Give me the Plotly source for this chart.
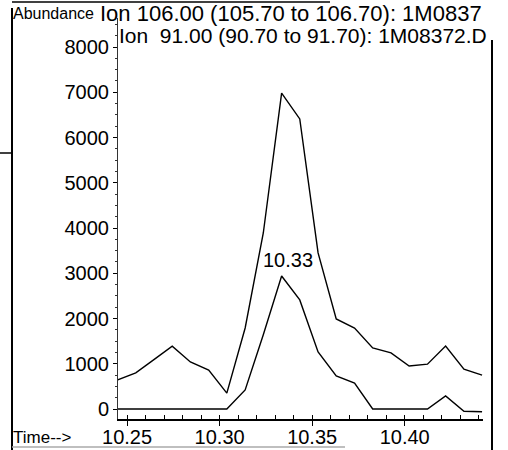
import plotly.graph_objects as go

# Retention time (min) of each scan
times = [10.2448, 10.2547, 10.2645, 10.2744, 10.2842, 10.2941, 10.3039,
         10.3138, 10.3236, 10.3335, 10.3433, 10.3532, 10.3630, 10.3729,
         10.3827, 10.3926, 10.4024, 10.4123, 10.4221, 10.4320, 10.4418]

# Extracted ion chromatograms (abundance)
ion_091 = [640, 800, 1090, 1390, 1040, 860, 350, 1790, 3890, 6980, 6410,
           3450, 1990, 1790, 1350, 1240, 950, 990, 1390, 880, 750]
ion_106 = [0, 0, 0, 0, 0, 0, 0, 420, 1640, 2940, 2410, 1260, 730, 575,
           0, 0, 0, 0, 290, -50, -60]

peak_time = times[9]
peak_label = "10.33"

y_ticks = [0, 1000, 2000, 3000, 4000, 5000, 6000, 7000, 8000]
x_ticks = [10.25, 10.30, 10.35, 10.40]

title_1 = "Ion 106.00 (105.70 to 106.70): 1M0837"
title_2 = "Ion  91.00 (90.70 to 91.70): 1M08372.D"

FONT = "Liberation Sans, Arial, sans-serif"

# Plot-area geometry in pixels (used to place page-level text and frame)
L, R, T, B = 118, 483, 18, 419
W, H = R - L, B - T


def px(x):
    return (x - L) / W


def py(y):
    return (B - y) / H


fig = go.Figure()
fig.add_trace(go.Scatter(x=times, y=ion_091, mode="lines", name="Ion 91.00",
                         line=dict(color="black", width=1.4)))
fig.add_trace(go.Scatter(x=times, y=ion_106, mode="lines", name="Ion 106.00",
                         line=dict(color="black", width=1.4)))

ann = []
ann.append(dict(x=peak_time, y=ion_106[9], xref="x", yref="y", text=peak_label,
                showarrow=False, yanchor="bottom", xshift=6, yshift=3,
                font=dict(family=FONT, size=20, color="black")))
ann.append(dict(x=px(11), y=py(14), xref="paper", yref="paper", text="Abundance",
                showarrow=False, xanchor="left", yanchor="middle",
                font=dict(family=FONT, size=16, color="black")))
ann.append(dict(x=px(291), y=py(14), xref="paper", yref="paper", text=title_1,
                showarrow=False, xanchor="center", yanchor="middle",
                font=dict(family=FONT, size=22, color="black")))
ann.append(dict(x=px(489), y=py(36), xref="paper", yref="paper", text=title_2,
                showarrow=False, xanchor="right", yanchor="middle",
                font=dict(family=FONT, size=21, color="black")))
ann.append(dict(x=px(11), y=py(437), xref="paper", yref="paper", text="Time-->",
                showarrow=False, xanchor="left", yanchor="middle",
                font=dict(family=FONT, size=17, color="black")))

# Page frame around the printout
frame = [
    dict(type="line", xref="paper", yref="paper", x0=px(12), x1=px(12),
         y0=py(8), y1=py(450), line=dict(color="black", width=2)),
    dict(type="line", xref="paper", yref="paper", x0=px(492), x1=px(492),
         y0=py(40), y1=py(450), line=dict(color="black", width=2)),
    dict(type="line", xref="paper", yref="paper", x0=px(12), x1=px(330),
         y0=py(2), y1=py(2), line=dict(color="black", width=1.5)),
    dict(type="line", xref="paper", yref="paper", x0=px(12), x1=px(345),
         y0=py(447), y1=py(447), line=dict(color="#aaaaaa", width=1.5)),
    dict(type="line", xref="paper", yref="paper", x0=px(0), x1=px(12),
         y0=py(153), y1=py(153), line=dict(color="black", width=1.5)),
]

fig.update_layout(
    width=508, height=450,
    margin=dict(l=L, r=508 - R, t=T, b=450 - B, autoexpand=False),
    paper_bgcolor="white", plot_bgcolor="white",
    showlegend=False,
    annotations=ann,
    shapes=frame,
    font=dict(family=FONT, color="black"),
    xaxis=dict(range=[10.2451, 10.4423], tickvals=x_ticks,
               ticktext=[f"{v:.2f}" for v in x_ticks], automargin=False,
               ticks="outside", ticklen=5, tickwidth=1, tickcolor="black",
               ticklabelstandoff=-6,
               showline=True, linecolor="black", linewidth=1.5,
               showgrid=False, zeroline=False,
               tickfont=dict(family=FONT, size=20, color="black"),
               minor=dict(dtick=0.01, tick0=10.25, ticks="inside", ticklen=4,
                          tickcolor="black", showgrid=False)),
    yaxis=dict(range=[-221, 8641], tickvals=y_ticks, automargin=False,
               ticks="outside", ticklen=4, tickwidth=1, tickcolor="black",
               showline=True, linecolor="#333333", linewidth=1,
               showgrid=False, zeroline=False,
               tickfont=dict(family=FONT, size=20, color="black"),
               minor=dict(dtick=250, ticks="outside", ticklen=2,
                          tickcolor="#333333", showgrid=False)),
)

fig.write_html("out.html")
